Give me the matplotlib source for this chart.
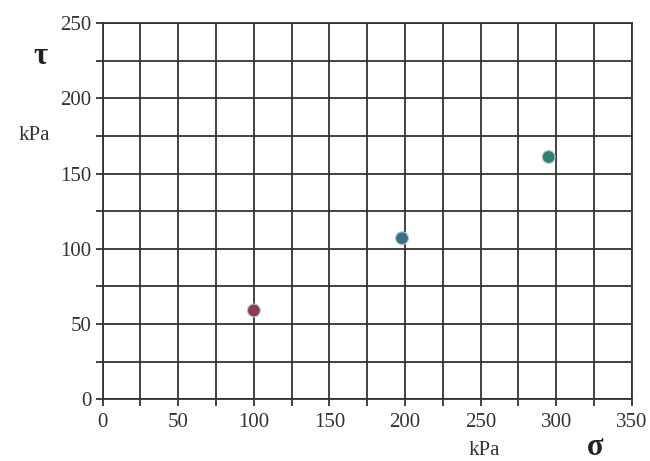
import matplotlib.pyplot as plt
import numpy as np

plt.rcParams['font.family'] = ['Liberation Serif', 'DejaVu Serif']

# data
sigma = [100, 198, 295]
tau = [59, 107, 161]
colors = ['#8c3a50', '#3d6f86', '#2f8070']
xticks = [0, 50, 100, 150, 200, 250, 300, 350]
yticks = [0, 50, 100, 150, 200, 250]

fig = plt.figure(figsize=(6.5, 4.61), dpi=100)
ax = fig.add_axes([0.158, 0.134, 0.814, 0.816])

ax.set_xlim(0, 350)
ax.set_ylim(0, 250)
ax.set_xticks(xticks)
ax.set_yticks(yticks)
ax.set_xticks(np.arange(0, 351, 25), minor=True)
ax.set_yticks(np.arange(0, 251, 25), minor=True)
ax.grid(True, which='both', color='#333333', linewidth=1.3)
ax.set_axisbelow(True)
for s in ax.spines.values():
    s.set_color('#333333')
    s.set_linewidth(1.3)
ax.tick_params(which='both', direction='out', length=5, width=1.3, color='#333333')
ax.tick_params(axis='x', labelsize=15, pad=5, colors='#333333')
ax.tick_params(axis='y', labelsize=15, pad=3, colors='#333333')

ax.scatter(sigma, tau, s=85, c=colors, edgecolors='#b0c8d0', linewidths=0.8, zorder=3)

fig.text(0.062, 0.878, 'τ', fontsize=22, fontweight='bold', ha='center', va='center', color='#222222')
fig.text(0.052, 0.707, 'kPa', fontsize=15, ha='center', va='center', color='#333333')
fig.text(0.745, 0.022, 'kPa', fontsize=15, ha='center', va='center', color='#333333')
fig.text(0.915, 0.030, 'σ', fontsize=22, fontweight='bold', ha='center', va='center', color='#222222')

fig.savefig('out.png', dpi=100)
